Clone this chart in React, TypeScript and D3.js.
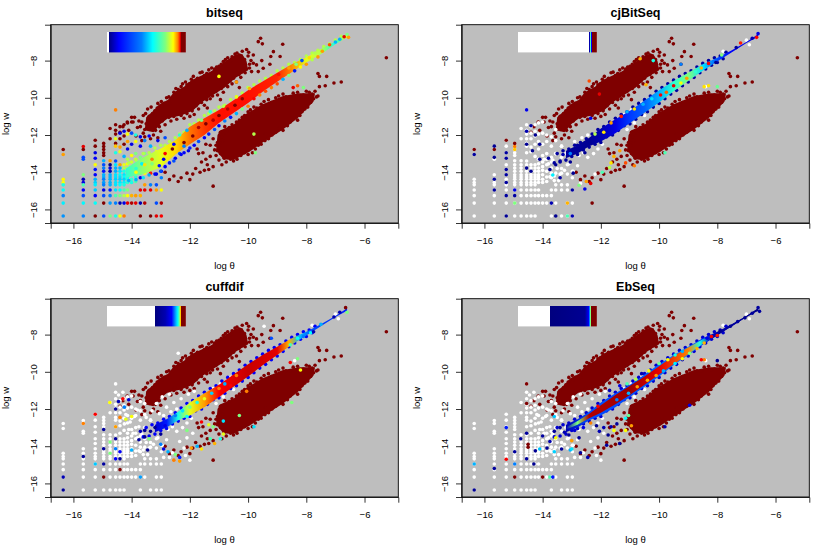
import { useEffect, useRef } from "react";
import * as d3 from "d3";

// the two dense clouds and the centre band hold thousands
// of dots in the original, here they are outlines with the visible dots typed on top
const thetaTicks = [-16, -14, -12, -10, -8, -6];
const wTicks = [-16, -14, -12, -10, -8];

const jetColors = ["#00007F", "#0000FF", "#007FFF", "#00FFFF", "#7FFF7F", "#FFFF00", "#FF7F00", "#FF0000", "#7F0000"];

const upperOutline = [
  [-13.55, -11.75], [-13.5, -11.05], [-13.25, -10.7], [-13.05, -10.35], [-12.75, -10.1], [-12.55, -9.7], [-12.2, -9.4], [-11.95, -9.05],
  [-11.6, -8.8], [-11.3, -8.6], [-11.0, -8.3], [-10.75, -8.0], [-10.45, -7.7], [-10.2, -7.65], [-10.05, -8.05], [-10.0, -8.5],
  [-10.45, -8.95], [-10.8, -9.45], [-11.2, -9.85], [-11.6, -10.25], [-11.9, -10.7], [-12.3, -10.95], [-12.75, -11.1], [-13.0, -11.4], [-13.25, -11.85],
];
const lowerOutline = [
  [-11.05, -12.0], [-10.95, -11.75], [-10.5, -11.45], [-10.05, -10.85], [-9.5, -10.35], [-8.8, -9.9], [-8.25, -9.75], [-7.7, -9.75],
  [-7.75, -10.2], [-8.3, -11.1], [-8.8, -11.7], [-9.5, -12.4], [-9.95, -12.9], [-10.5, -13.35], [-10.85, -13.3], [-11.1, -12.8],
];

const upperDots = [
  [-13.9, -11.05], [-13.75, -11.25], [-13.6, -10.95], [-13.45, -10.6], [-13.4, -11.0], [-13.2, -10.7], [-13.1, -10.3], [-12.95, -10.45], [-12.8, -10.0], [-12.7, -10.3],
  [-12.55, -9.7], [-12.4, -9.55], [-12.25, -9.25], [-12.1, -9.3], [-11.95, -9.0], [-11.8, -9.1], [-11.65, -8.65], [-11.5, -8.8], [-11.35, -8.5], [-11.15, -8.45],
  [-11.0, -8.3], [-10.85, -8.05], [-10.7, -7.85], [-10.6, -8.0], [-10.45, -7.65], [-10.3, -7.7], [-10.2, -7.5], [-10.05, -7.4], [-10.0, -7.75], [-9.9, -8.0],
  [-9.57, -6.8], [-9.65, -6.98], [-9.51, -7.1], [-8.81, -7.12], [-9.13, -7.52], [-9.22, -7.78], [-8.9, -7.78], [-9.25, -8.2], [-9.53, -8.0], [-9.48, -8.41],
  [-9.71, -8.23], [-9.65, -8.59], [-9.82, -8.14], [-9.82, -7.7], [-9.88, -8.59], [-9.95, -8.4], [-10.1, -8.65], [-10.25, -8.9], [-10.4, -9.15], [-10.55, -9.25],
  [-10.7, -9.4], [-10.85, -9.7], [-11.05, -9.85], [-11.3, -10.05], [-11.5, -10.4], [-11.7, -10.6], [-11.85, -10.9], [-12.0, -11.0], [-12.2, -11.1], [-12.45, -11.15],
  [-12.65, -11.25], [-12.85, -11.45], [-13.0, -11.8], [-13.1, -12.15], [-13.25, -12.0], [-13.4, -11.7], [-13.6, -11.9], [-13.8, -11.6], [-13.95, -11.3], [-14.15, -11.3],
  [-14.3, -11.55], [-14.4, -11.85], [-14.1, -11.75], [-13.85, -12.05], [-13.65, -12.3], [-12.9, -11.05], [-12.55, -11.0], [-11.4, -10.55], [-10.95, -10.1], [-10.3, -9.45],
  [-13.65, -11.3], [-13.52, -10.85], [-13.33, -10.5], [-13.28, -10.85], [-13.12, -10.55], [-12.98, -10.2], [-12.88, -10.3], [-12.72, -9.95], [-12.62, -10.05], [-12.48, -9.5],
  [-12.38, -9.8], [-12.3, -9.4], [-12.15, -9.15], [-12.02, -9.25], [-11.88, -8.85], [-11.74, -8.95], [-11.58, -8.62], [-11.42, -8.7], [-11.25, -8.4], [-11.08, -8.35],
  [-10.92, -8.2], [-10.78, -7.95], [-10.55, -7.8], [-10.38, -7.6], [-10.22, -7.85], [-10.12, -7.95], [-9.95, -8.2], [-9.98, -7.55], [-10.15, -8.3], [-10.05, -8.45],
  [-10.2, -8.6], [-10.32, -8.75], [-10.5, -8.95], [-10.62, -9.1], [-10.78, -9.3], [-10.92, -9.5], [-11.1, -9.65], [-11.22, -9.9], [-11.42, -10.1], [-11.6, -10.25],
  [-11.78, -10.42], [-11.92, -10.7], [-12.1, -10.85], [-12.3, -10.95], [-12.52, -10.85], [-12.72, -11.05], [-12.95, -11.25], [-13.05, -11.55], [-13.18, -11.75], [-13.3, -11.55],
  [-13.5, -11.4], [-13.7, -11.55], [-14.0, -11.05], [-13.35, -12.2], [-13.55, -12.1],
];
const lowerDots = [
  [-11.75, -12.75], [-11.7, -13.0], [-11.55, -12.95], [-11.45, -13.3], [-11.6, -13.45], [-11.4, -13.6], [-11.3, -13.15], [-11.15, -12.8], [-11.1, -13.1], [-11.0, -13.35],
  [-11.2, -13.7], [-11.35, -13.85], [-11.5, -13.9], [-11.65, -14.0], [-11.8, -13.8], [-11.9, -14.1], [-12.1, -14.05], [-12.3, -14.3], [-12.4, -14.5], [-12.55, -14.2],
  [-12.7, -14.4], [-12.85, -14.0], [-12.0, -14.4], [-11.2, -14.75], [-10.9, -13.6], [-10.75, -13.45], [-11.05, -12.4], [-10.9, -12.1], [-11.2, -12.2], [-11.45, -12.5],
  [-10.95, -11.85], [-10.8, -11.55], [-10.65, -11.6], [-10.4, -11.3], [-10.2, -11.05], [-10.0, -10.75], [-9.8, -10.5], [-9.55, -10.35], [-9.3, -10.1], [-9.05, -10.0],
  [-8.8, -9.8], [-8.55, -9.95], [-8.3, -9.7], [-8.1, -9.85], [-7.9, -9.7], [-7.7, -9.65], [-7.55, -9.4], [-7.35, -9.35], [-7.05, -9.2], [-6.8, -9.15],
  [-7.6, -8.7], [-7.55, -8.85], [-7.3, -8.85], [-7.6, -9.9], [-7.75, -10.05], [-7.95, -10.5], [-8.15, -10.75], [-8.3, -11.2], [-8.55, -11.3], [-8.8, -11.75],
  [-9.05, -11.85], [-9.3, -12.2], [-9.55, -12.5], [-9.75, -12.75], [-10.0, -13.05], [-10.25, -13.1], [-10.5, -13.4], [-10.7, -13.2], [-9.9, -12.5], [-9.4, -11.95],
  [-10.85, -11.95], [-10.72, -11.75], [-10.55, -11.45], [-10.3, -11.2], [-10.12, -10.95], [-9.92, -10.65], [-9.7, -10.55], [-9.45, -10.2], [-9.2, -10.25], [-8.95, -9.9],
  [-8.7, -9.95], [-8.45, -9.75], [-8.2, -9.9], [-8.0, -9.65], [-7.8, -9.8], [-7.65, -9.95], [-7.85, -10.25], [-8.05, -10.6], [-8.22, -10.95], [-8.42, -11.05],
  [-8.65, -11.5], [-8.92, -11.65], [-9.18, -12.0], [-9.42, -12.3], [-9.65, -12.55], [-9.85, -12.95], [-10.12, -12.95], [-10.38, -13.3], [-10.6, -13.3], [-10.82, -13.25],
  [-10.95, -13.0], [-11.05, -12.85], [-10.98, -12.55], [-11.1, -12.55], [-11.3, -12.55], [-10.88, -12.3],
];
const outliers = [[-5.25, -7.85]];

// [theta, [w, bitseq value]] for the low count lattice, white in the other three panels
const lowColumns: [number, [number, number][]][] = [
  [-16.35, [[-12.78, 1], [-13.05, 0.72], [-14.38, 0.63], [-14.55, 0.62], [-14.68, 0.4], [-14.96, 0.38], [-15.26, 0.25], [-15.66, 0.36], [-16.35, 0.27]]],
  [-15.66, [[-12.62, 0.9], [-12.78, 1], [-13.2, 0.2], [-13.3, 0.2], [-14.14, 0.5], [-14.38, 0.05], [-14.55, 0.1], [-14.68, 0.45], [-14.96, 0.12], [-15.26, 0.2], [-15.66, 0.37], [-16.35, 0.25]]],
  [-15.25, [[-12.28, 1], [-12.6, 1], [-12.95, 0.1], [-13.25, 0.12], [-13.6, 0.62], [-13.85, 0.14], [-14.14, 0.12], [-14.38, 0.3], [-14.55, 0.33], [-14.68, 0.36], [-14.96, 0.32], [-15.26, 0.12], [-15.66, 0.38], [-16.35, 1]]],
  [-14.96, [[-12.45, 1], [-12.62, 1], [-12.78, 1], [-12.95, 1], [-13.1, 1], [-13.38, 0.3], [-13.6, 0.2], [-13.78, 0.25], [-13.95, 0.15], [-14.14, 0.3], [-14.26, 0.3], [-14.38, 0.25], [-14.55, 0.28], [-14.68, 0.25], [-14.96, 0.1], [-15.26, 0.2], [-15.66, 1], [-16.35, 0.2]]],
  [-14.74, [[-11.65, 1], [-12.2, 1], [-13.38, 0.72], [-13.6, 0], [-13.78, 0.1], [-13.95, 0.05], [-14.14, 0.3], [-14.26, 0.3], [-14.38, 0.3], [-14.55, 0.3], [-14.68, 0.3], [-14.96, 0.15], [-15.26, 0.25], [-15.66, 0.28], [-16.35, 0.5]]],
  [-14.55, [[-10.65, 0.75], [-11.45, 1], [-11.75, 1], [-11.95, 1], [-12.2, 0.6], [-12.45, 1], [-12.6, 0.68], [-12.95, 0.4], [-13.4, 0.2], [-13.6, 0.35], [-13.78, 0.3], [-13.95, 0.3], [-14.14, 0.35], [-14.26, 0.35], [-14.38, 0.33], [-14.55, 0.35], [-14.68, 0.35], [-14.96, 0.35], [-15.26, 0.45], [-15.66, 0.25], [-16.35, 0.4]]],
  [-14.4, [[-11.55, 1], [-11.9, 0.1], [-12.2, 1], [-12.65, 0.72], [-12.9, 0.6], [-13.6, 0.72], [-13.78, 0.3], [-13.95, 0.35], [-14.14, 0.38], [-14.26, 0.35], [-14.38, 0.33], [-14.55, 0.35], [-14.68, 0.38], [-14.96, 0.38], [-15.26, 0.5], [-15.66, 0.05], [-16.35, 0.62]]],
  [-14.26, [[-11.45, 1], [-11.8, 0.1], [-12.05, 1], [-12.5, 1], [-13.15, 0.3], [-13.6, 0.6], [-13.78, 0.55], [-13.95, 0.4], [-14.14, 0.35], [-14.26, 0.38], [-14.38, 0.33], [-14.55, 0.36], [-14.68, 0.4], [-14.96, 0.45], [-15.26, 0.55], [-15.66, 0.1], [-16.35, 0.75]]],
  [-14.14, [[-11.35, 1], [-11.95, 0.62], [-12.35, 0.72], [-12.75, 0.1], [-13.3, 0.55], [-13.55, 0.62], [-13.78, 0.55], [-13.95, 0.5], [-14.14, 0.42], [-14.26, 0.38], [-14.38, 0.4], [-14.55, 0.42], [-14.96, 0.5], [-15.26, 0.62], [-15.66, 0.9]]],
  [-14.0, [[-11.3, 1], [-11.9, 0.2], [-12.5, 0.1], [-13.1, 0.62], [-13.45, 0.58], [-13.7, 0.62], [-13.9, 0.5], [-14.14, 0.45], [-14.38, 0.42], [-14.55, 0.4], [-15.26, 0.7], [-15.66, 0.95]]],
  [-13.86, [[-12.0, 0.4], [-12.35, 0.62], [-13.0, 0.5], [-13.3, 0.6], [-13.6, 0.7], [-13.95, 0.55], [-14.26, 0.42], [-14.5, 0.45], [-15.26, 0.72], [-15.66, 0.9]]],
  [-13.7, [[-12.1, 0.1], [-12.6, 0.12], [-13.2, 0.5], [-13.45, 0.62], [-13.78, 0.6], [-14.05, 0.45], [-14.3, 0.1], [-14.96, 0.9], [-15.26, 0.7], [-15.66, 0.05], [-16.35, 1]]],
  [-13.55, [[-11.7, 1], [-12.3, 0.25], [-13.0, 0.5], [-13.6, 0.6], [-14.05, 0.62], [-14.68, 0.72], [-14.96, 0.9], [-15.66, 0.95]]],
  [-13.35, [[-12.6, 0.3], [-13.2, 0.55], [-13.8, 0.6], [-14.05, 0.85], [-14.68, 0.25], [-14.96, 0.9], [-16.35, 1]]],
  [-13.15, [[-12.9, 0.62], [-13.6, 0.55], [-14.1, 0.1], [-14.68, 0.2], [-14.96, 0.72], [-15.66, 0.2], [-16.35, 0.9]]],
  [-12.98, [[-13.95, 0.12], [-14.3, 0.25], [-14.96, 0.62], [-15.66, 0.95], [-16.35, 0.88]]],
];

// parts of the cloud around the band that go white in the last three panels
const sharedWhite = [
  [-13.95, -13.3], [-13.8, -13.55], [-13.65, -13.35], [-13.5, -13.8], [-13.4, -14.1], [-13.25, -13.9], [-13.1, -13.55], [-12.95, -13.95], [-12.8, -13.65], [-13.2, -13.0],
  [-13.0, -12.85], [-12.75, -13.1], [-12.6, -12.95], [-12.45, -13.2], [-12.25, -13.0], [-12.1, -12.75], [-11.95, -12.5], [-12.9, -12.35], [-12.65, -12.15], [-12.45, -12.0],
  [-13.35, -12.6], [-13.55, -13.0], [-13.75, -14.25], [-13.6, -14.2], [-13.45, -14.45], [-13.6, -14.45], [-12.7, -14.6], [-12.2, -14.1], [-11.75, -11.65], [-11.5, -11.35],
  [-11.2, -10.9], [-10.95, -10.65], [-10.6, -10.3], [-10.3, -10.0], [-11.1, -11.7], [-10.85, -11.35], [-10.5, -10.95], [-8.4, -9.4], [-7.8, -7.5], [-7.0, -6.9], [-6.9, -7.15],
];
const wideWhite = [
  [-14.45, -11.25], [-14.3, -11.1], [-14.55, -11.1], [-14.2, -12.3], [-14.05, -12.7], [-13.9, -12.4], [-13.8, -12.05], [-13.7, -11.6], [-13.5, -12.45], [-13.3, -12.1],
  [-13.15, -11.7], [-12.95, -11.35], [-12.7, -11.2], [-13.75, -12.95], [-14.1, -13.1], [-14.25, -12.8], [-14.4, -13.3], [-13.05, -12.25], [-12.8, -11.9], [-12.55, -11.65],
  [-12.3, -11.45], [-12.05, -11.2], [-11.85, -11.05], [-12.35, -13.75], [-12.1, -13.55], [-11.9, -13.3], [-12.15, -14.5], [-12.0, -14.75], [-12.6, -14.35], [-12.9, -14.6],
];

const bandTheta = [-14.2, -13.6, -13, -12.5, -12, -11.5, -11, -10.5, -10, -9.5, -9, -8.5, -8, -7.5, -7, -6.6];
const bandLow = [-14.3, -14.1, -13.75, -13.05, -12.5, -12.0, -11.35, -10.82, -10.28, -9.68, -9.14, -8.62, -8.1, -7.66, -7.12, -6.76];
const bandHigh = [-13.8, -13.2, -12.72, -12.28, -11.56, -11.1, -10.66, -10.13, -9.59, -9.12, -8.65, -8.2, -7.82, -7.38, -6.97, -6.57];

const coreTheta = [-13.2, -12.8, -12.4, -12, -11.5, -11, -10.5, -10, -9.5, -9, -8.5, -8, -7.5, -7, -6.6];
const coreLow = [-13.25, -13.0, -12.6, -12.35, -11.9, -11.35, -10.8, -10.25, -9.65, -9.1, -8.55, -8.05, -7.55, -7.05, -6.72];
const coreHigh = [-12.85, -12.55, -12.15, -11.65, -11.15, -10.7, -10.15, -9.6, -9.1, -8.65, -8.2, -7.85, -7.45, -7.0, -6.58];
const innerLow = [-13.1, -12.85, -12.5, -12.2, -11.75, -11.25, -10.7, -10.15, -9.6, -9.05, -8.5, -8.0, -7.55, -7.05, -6.7];
const innerHigh = [-13.0, -12.65, -12.25, -11.8, -11.25, -10.75, -10.25, -9.7, -9.15, -8.7, -8.25, -7.9, -7.45, -7.0, -6.6];

// dots on the band edges so they do not end in a clean line
const bandUpperDots = [
  [-14.1, -13.5], [-13.85, -13.35], [-13.6, -13.0], [-13.4, -12.95], [-13.2, -12.7], [-13, -12.55], [-12.85, -12.55], [-12.7, -12.35], [-12.5, -12.15], [-12.35, -11.95],
  [-12.2, -11.85], [-12, -11.45], [-11.85, -11.4], [-11.7, -11.2], [-11.5, -10.95], [-11.35, -10.85], [-11.15, -10.7], [-11, -10.5], [-10.8, -10.4], [-10.6, -10.1],
  [-10.4, -9.95], [-10.2, -9.75], [-10, -9.45], [-9.8, -9.3], [-9.6, -9.1], [-9.4, -8.95], [-9.2, -8.8], [-9, -8.55], [-8.8, -8.4], [-8.6, -8.2],
  [-8.4, -8.1], [-8.2, -7.95], [-8, -7.75], [-7.8, -7.6], [-7.6, -7.45], [-7.4, -7.25], [-7.2, -7.1], [-7, -6.9], [-6.8, -6.7],
];
const bandLowerDots = [
  [-14.1, -14.45, 0.3], [-13.85, -14.4, 0.3], [-13.6, -14.3, 0.35], [-13.4, -14.15, 0.3], [-13.2, -14.1, 0.12], [-13, -13.95, 0.2], [-12.85, -13.7, 0.12], [-12.7, -13.5, 0.15], [-12.5, -13.25, 0.12], [-12.35, -13.0, 0.2],
  [-12.2, -12.95, 0.12], [-12, -12.7, 0.15], [-11.85, -12.55, 0.12], [-11.7, -12.35, 0.2], [-11.5, -12.15, 0.12], [-11.35, -11.95, 0.15], [-11.15, -11.7, 0.2], [-11, -11.5, 0.12], [-10.8, -11.25, 0.25], [-10.6, -11.05, 0.15],
  [-10.4, -10.85, 0.3], [-10.2, -10.6, 0.5], [-10, -10.45, 0.75], [-9.8, -10.05, 0.88], [-9.6, -9.85, 0.75], [-9.4, -9.65, 0.8], [-9.2, -9.45, 0.75], [-9, -9.25, 0.8], [-8.8, -9.0, 0.3], [-8.6, -8.8, 0.5],
  [-8.4, -8.55, 0.15], [-8.2, -8.35, 0.62], [-8, -8.2, 0.72], [-7.8, -7.95, 0.55], [-7.6, -7.8, 0.72],
];
const coreDots = [
  [-13.5, -13.0], [-13.3, -12.85], [-13.1, -12.75], [-12.9, -12.55], [-12.7, -12.4], [-12.5, -12.2], [-12.3, -11.95], [-12.1, -11.7], [-11.9, -11.55], [-11.7, -11.3],
  [-11.5, -11.1], [-11.3, -10.9], [-11.1, -10.75], [-10.9, -10.5], [-10.7, -10.3], [-10.5, -10.1], [-10.3, -9.9], [-10.1, -9.65], [-9.9, -9.45], [-9.7, -9.25],
  [-9.5, -9.05], [-9.3, -8.85], [-9.1, -8.7], [-8.9, -8.55], [-8.7, -8.35], [-8.5, -8.15], [-8.3, -8.0], [-8.1, -7.85], [-7.9, -7.75], [-7.7, -7.55],
  [-13.6, -13.5], [-13.4, -13.45], [-13.2, -13.35], [-13, -13.15], [-12.8, -13.05], [-12.6, -12.8], [-12.4, -12.65], [-12.2, -12.5], [-12, -12.4], [-11.8, -12.1],
  [-11.6, -12.0], [-11.4, -11.75], [-11.2, -11.5], [-11, -11.4], [-10.8, -11.15], [-10.6, -10.9], [-10.4, -10.75], [-10.2, -10.5], [-10, -10.3], [-9.8, -10.05],
  [-9.6, -9.8], [-9.4, -9.6], [-9.2, -9.35], [-9, -9.15], [-8.8, -8.9], [-8.6, -8.65], [-8.4, -8.45], [-8.2, -8.25], [-8, -8.1], [-7.8, -7.9],
];

const bitseqStops = [[-14.2, 0.42], [-13.6, 0.52], [-13, 0.6], [-12.5, 0.66], [-12, 0.76], [-11.5, 0.82], [-11, 0.86], [-10, 0.86], [-9, 0.84], [-8.5, 0.74], [-8, 0.6], [-7.5, 0.55], [-7, 0.4], [-6.6, 0.62]];
const cjStops = [[-13.2, 0.03], [-12.4, 0.02], [-12, 0.05], [-11.5, 0.1], [-11, 0.18], [-10.5, 0.22], [-10, 0.3], [-9.5, 0.42], [-9, 0.5], [-8.5, 0.35], [-8, 0.2], [-7.5, 0.12], [-6.6, 0.1]];
const cuffStops = [[-13.2, 0.08], [-12.8, 0.15], [-12.4, 0.4], [-12, 0.6], [-11.5, 0.72], [-11, 0.88], [-10, 0.93], [-9, 0.9], [-8.6, 0.7], [-8.2, 0.3], [-7.8, 0.2], [-6.6, 0.15]];
const ebEdgeStops = [[-13.2, 0.05], [-12.4, 0.2], [-11, 0.2], [-9, 0.25], [-8.4, 0.15], [-8, 0.02], [-6.6, 0.01]];
const ebInnerStops = [[-13.2, 0.05], [-12.8, 0.5], [-12.4, 0.95], [-11, 0.97], [-10, 0.9], [-9, 0.75], [-8.6, 0.4], [-8.2, 0.05], [-6.6, 0.01]];

// colour bars: [position along the bar, jet value], null is white
const bitseqBar: [number, number | null][] = [[0, null], [0.02, null], [0.02, 0], [0.15, 0.125], [0.44, 0.25], [0.58, 0.375], [0.74, 0.5], [0.84, 0.625], [0.9, 0.75], [0.93, 0.875], [0.94, 1], [1, 1]];
const cjBar: [number, number | null][] = [[0, null], [0.903, null], [0.903, 0], [0.915, 0.125], [0.92, 0.45], [0.93, 0.5], [0.932, 0.125], [0.94, 0.125], [0.94, 1], [1, 1]];
const cuffBar: [number, number | null][] = [[0, null], [0.615, null], [0.615, 0], [0.74, 0.05], [0.82, 0.125], [0.88, 0.32], [0.9, 0.375], [0.92, 0.5], [0.93, 0.625], [0.94, 0.8], [0.94, 1], [1, 1]];
const ebBar: [number, number | null][] = [[0, null], [0.4, null], [0.4, 0], [0.85, 0.02], [0.9, 0.125], [0.915, 0.375], [0.925, 0.625], [0.93, 0.875], [0.93, 1], [1, 1]];

const bitseqSpots = [
  [-13.4, -12.05, 0.12], [-13.1, -12.3, 0.1], [-12.85, -12.15, 0.2], [-12.55, -12.5, 0.12], [-12.2, -12.6, 0.25], [-12.9, -13.3, 0.1], [-13.05, -13.65, 0.14], [-12.55, -13.4, 0.2], [-12.3, -13.05, 0.12], [-12.05, -12.85, 0.1],
  [-12.35, -12.0, 0.42], [-12.1, -11.75, 0.3], [-11.6, -11.2, 0.5], [-11.3, -10.75, 0.42], [-10.85, -10.45, 0.55], [-10.4, -9.95, 0.6], [-9.95, -9.5, 0.7], [-13.65, -13.55, 0.36], [-13.85, -13.8, 0.42], [-13.3, -13.55, 0.5],
  [-12.6, -12.75, 1], [-12.2, -12.4, 1], [-11.9, -12.05, 1], [-11.7, -11.6, 0.95], [-11.45, -11.4, 1], [-11.2, -11.2, 0.95], [-11.0, -10.95, 1], [-10.7, -10.6, 0.95], [-10.45, -10.4, 1], [-10.2, -10.05, 0.98],
  [-12.85, -13.0, 0.88], [-13.3, -13.3, 0.75], [-13.55, -13.6, 0.65], [-13.85, -14.0, 0.62], [-8.95, -8.75, 0.86], [-8.6, -8.4, 0.72], [-8.35, -8.2, 0.5], [-8.15, -8.0, 0.2], [-7.9, -7.85, 0.66], [-7.7, -7.6, 0.55],
  [-7.45, -7.5, 0.72], [-7.2, -7.15, 0.8], [-7.0, -7.0, 0.3], [-6.85, -6.85, 0.3], [-6.6, -6.6, 0.5], [-6.55, -6.75, 0.72], [-6.7, -6.72, 0.9], [-8.45, -9.45, 0.9], [-8.3, -9.35, 0.78], [-8.1, -9.45, 0.5],
  [-9.8, -11.95, 0.55], [-9.75, -12.95, 0.5], [-10.4, -9.15, 0.72], [-11.0, -8.85, 0.62],
];
const cjSpots = [
  [-14.35, -12.85, 0.02], [-14.1, -13.3, 0.02], [-13.8, -13.25, 0.03], [-13.55, -13.6, 0.02], [-13.75, -13.85, 0.02], [-13.3, -13.05, 0.05], [-13.05, -13.45, 0.02], [-12.8, -12.55, 0.03], [-12.55, -12.95, 0.02], [-12.95, -14.05, 0.02],
  [-13.4, -13.4, 0.03], [-13.65, -14.15, 0.36], [-13.4, -14.3, 0.03], [-14.1, -12.5, 0.02], [-14.55, -12.5, 0.02], [-14.55, -11.8, 0.05], [-14.25, -12.0, 0.02], [-14.4, -11.5, 0.03], [-14.55, -10.65, 0.1], [-15.66, -12.6, 0.02],
  [-15.66, -13.2, 0.02], [-15.25, -12.95, 0.03], [-15.25, -13.25, 0.03], [-15.25, -13.85, 0.03], [-15.25, -14.14, 0.03], [-15.66, -14.38, 0.03], [-15.66, -14.96, 0.03], [-15.25, -14.55, 0.03], [-15.25, -15.26, 0.03], [-14.96, -14.96, 0.1],
  [-14.96, -15.26, 0.03], [-14.55, -13.78, 0.02], [-14.4, -13.95, 0.02], [-14.96, -12.62, 0.75], [-14.96, -12.78, 0.68], [-14.96, -12.45, 1], [-16.35, -12.78, 1], [-16.35, -13.05, 0.03], [-15.66, -12.78, 1], [-15.25, -12.28, 1],
  [-14.96, -15.66, 0.5], [-13.7, -15.66, 0.05], [-13.15, -15.66, 0.7], [-12.98, -16.35, 0.05], [-13.15, -16.35, 0.45], [-15.25, -16.35, 0.02], [-13.55, -16.35, 0.02], [-12.3, -15.66, 1], [-12.98, -14.96, 0.03], [-12.75, -14.7, 0.5],
  [-12.5, -14.5, 0.72], [-12.35, -14.6, 0.9], [-12.55, -14.9, 0.1], [-11.55, -13.15, 0.7], [-11.65, -13.5, 0.65], [-11.7, -13.75, 0.55], [-11.95, -14.0, 0.45], [-11.35, -12.85, 0.72], [-10.85, -13.65, 0.75], [-11.15, -13.5, 0.8],
  [-12.35, -11.1, 0.1], [-12.05, -9.8, 0.9], [-12.4, -9.1, 0.8], [-10.45, -9.3, 0.7], [-10.2, -8.0, 0.4], [-10.65, -7.9, 0.7], [-9.25, -8.2, 0.25], [-8.45, -9.4, 0.65], [-8.3, -9.35, 0.65], [-8.0, -9.4, 0.48],
  [-9.8, -12.95, 0.45], [-13.05, -13.0, 0.25], [-12.2, -11.95, 0.55], [-11.9, -11.85, 0.65], [-11.65, -11.35, 0.72], [-11.3, -11.0, 0.85], [-11.1, -10.75, 0.3], [-10.85, -10.6, 0.65], [-10.55, -10.35, 0.3], [-10.25, -10.05, 0.35],
  [-9.95, -9.85, 0.88], [-9.75, -9.7, 0.78], [-9.5, -9.35, 0.9], [-9.25, -9.2, 0.62], [-9.05, -8.95, 0.72], [-8.75, -8.6, 0.42], [-8.55, -8.4, 0.7], [-8.3, -8.15, 0.88], [-8.05, -8.1, 0.02], [-7.85, -7.7, 0.5],
  [-7.2, -7.05, 0.85], [-6.65, -6.75, 0.88], [-6.6, -6.55, 0.1], [-6.8, -6.8, 0.05], [-7.35, -7.3, 0.03],
];
const cuffSpots = [
  [-14.25, -11.9, 0.25], [-14.45, -11.6, 0.05], [-14.1, -11.5, 0.08], [-14.3, -11.45, 0.88], [-14.55, -12.0, 0.03], [-14.75, -11.65, 0.62], [-14.55, -12.95, 0.72], [-14.4, -12.45, 0.75], [-14.2, -12.55, 0.6], [-14.0, -12.4, 0.62],
  [-15.25, -12.28, 0.88], [-15.66, -12.78, 0.75], [-14.96, -13.1, 0.03], [-14.55, -13.6, 0.03], [-14.74, -13.78, 0.5], [-14.55, -14.14, 0.25], [-14.4, -14.3, 0.12], [-14.55, -14.68, 0.12], [-14.74, -14.38, 0.5], [-14.96, -14.96, 0.03],
  [-15.66, -14.55, 0.03], [-15.25, -14.96, 0.32], [-14.96, -14.14, 0.03], [-16.35, -15.66, 0.05], [-16.35, -16.35, 0.02], [-14.96, -15.66, 1], [-14.4, -15.26, 1], [-13.7, -15.66, 0.28], [-14.4, -14.68, 0.02], [-14.0, -14.2, 0.3],
  [-13.7, -13.2, 0.05], [-13.55, -13.5, 0.02], [-13.4, -13.6, 0.5], [-13.2, -13.0, 0.02], [-13.0, -13.35, 0.02], [-12.85, -12.9, 0.1], [-13.55, -13.15, 0.02], [-13.35, -13.2, 0.02], [-13.75, -13.65, 0.03], [-13.45, -14.2, 0.02],
  [-13.0, -13.9, 0.25], [-12.9, -14.15, 0.1], [-12.75, -14.3, 0.3], [-12.5, -14.45, 0.5], [-12.35, -14.6, 0.15], [-12.55, -14.75, 0.75], [-12.35, -14.8, 0.72], [-11.95, -14.1, 0.72], [-11.75, -14.0, 0.3], [-11.6, -14.15, 0.65],
  [-11.3, -13.6, 0.45], [-11.15, -13.85, 0.7], [-10.95, -13.6, 0.4], [-10.85, -13.35, 0.6], [-12.1, -13.15, 0.5], [-11.6, -12.7, 0.88], [-11.35, -12.85, 0.6], [-11.2, -12.95, 0.5], [-10.85, -12.65, 0.35], [-10.3, -12.35, 0.5],
  [-9.8, -12.95, 0.35], [-8.5, -11.65, 0.5], [-10.05, -11.05, 0.75], [-10.4, -10.2, 0.75], [-8.55, -9.5, 0.88], [-8.3, -9.3, 0.5], [-8.2, -9.9, 0.62], [-9.2, -8.2, 0.2], [-9.45, -7.55, null], [-12.4, -9.0, null],
  [-12.5, -12.35, 0.25], [-12.25, -12.1, 0.35], [-12.0, -11.9, 0.5], [-11.75, -11.65, 0.4], [-11.5, -11.45, 0.6], [-11.25, -11.15, 0.33], [-11.0, -10.9, 0.75], [-10.8, -10.65, 0.3], [-10.6, -10.75, 0.88], [-12.1, -12.4, 0.38],
  [-8.55, -8.55, 0.45], [-8.3, -8.2, 0.38], [-8.1, -8.1, 0.25], [-7.85, -7.9, 0.38], [-7.75, -7.85, 0.05], [-7.5, -7.45, 0.3], [-7.05, -7.05, 0.05], [-6.85, -6.8, 0.05], [-6.6, -6.8, 0.5], [-6.65, -6.55, 1],
];
const ebSpots = [
  [-13.4, -13.0, 0.03], [-13.25, -13.25, 0.05], [-13.1, -13.4, 0.03], [-12.9, -13.15, 0.08], [-12.75, -13.55, 0.02], [-12.6, -13.0, 0.1], [-13.55, -13.55, 0.62], [-13.35, -14.15, 0.03], [-13.05, -14.2, 0.3], [-13.0, -13.7, 0.72],
  [-13.75, -13.75, 0.05], [-13.85, -14.1, 0.02], [-14.0, -13.45, 0.03], [-14.1, -14.15, 0.32], [-14.25, -14.25, 0.02], [-14.55, -13.3, 0.03], [-14.75, -13.6, 0.03], [-14.96, -14.3, 0.03], [-14.55, -14.68, 0.03], [-14.3, -14.96, 0.02],
  [-15.25, -13.0, 0.15], [-15.25, -14.7, 0.88], [-15.66, -15.2, 0.03], [-16.35, -14.96, 0.3], [-16.35, -16.35, 0.02], [-14.96, -14.96, 0.25], [-14.96, -15.66, 1], [-14.0, -15.66, 1], [-13.75, -15.66, 0.45], [-13.65, -15.66, 0.15],
  [-14.5, -13.9, 1], [-14.5, -14.05, 1], [-14.55, -11.7, 1], [-14.55, -10.65, 1], [-13.6, -14.3, 0.33], [-13.6, -12.4, 0.32], [-13.0, -14.15, 0.35], [-13.6, -13.2, 0.03], [-12.7, -14.35, 0.03], [-12.45, -14.6, 0.05],
  [-12.15, -12.9, 0.02], [-12.05, -13.2, 0.05], [-11.9, -13.0, 0.05], [-11.75, -13.4, 0.02], [-11.65, -12.95, 0.05], [-11.55, -13.15, 0.62], [-11.8, -13.95, 0.03], [-11.45, -12.8, 0.03], [-11.15, -13.15, 0.62], [-11.35, -13.85, 0.03],
  [-10.95, -12.9, 0.72], [-11.15, -12.5, 0.38], [-11.05, -12.35, 0.48], [-9.8, -12.95, 0.05], [-8.95, -11.8, 0.1], [-8.45, -9.35, 0.75], [-8.55, -9.35, 0.88], [-8.0, -9.4, 0.02], [-12.1, -11.85, 0.88], [-12.35, -12.75, 0.75],
  [-11.7, -11.0, 0.05], [-11.35, -10.75, 0.1], [-11.1, -10.65, 0.45], [-10.8, -10.4, 0.55], [-10.6, -10.1, 0.05], [-10.35, -9.95, 0.62], [-10.0, -9.55, 0.48], [-9.7, -9.35, 0.62], [-9.45, -9.1, 0.4], [-9.2, -8.9, 0.3],
  [-11.45, -11.5, 0.25], [-11.05, -11.15, 0.3], [-10.75, -10.8, 0.72], [-10.4, -10.45, 0.7], [-10.1, -10.2, 0.72], [-9.85, -9.95, 0.3], [-9.45, -9.55, 0.36], [-9.2, -9.3, 0.62], [-8.95, -9.0, 0.5], [-8.7, -8.75, 0.7],
  [-8.45, -8.45, 0.7], [-8.2, -8.1, 0.88], [-8.0, -8.05, 0.85], [-8.35, -8.2, 0.1], [-7.9, -7.8, 0.02], [-7.55, -7.55, 0.02], [-7.3, -7.3, 0.03], [-7.05, -7.1, 0.02], [-6.8, -6.85, 0.03], [-6.55, -6.75, 0.03], [-6.6, -6.55, 0.03],
];

type Layer = { theta: number[]; low: number[]; high: number[]; stops: number[][] };
type Panel = {
  title: string;
  bar: [number, number | null][];
  layers: Layer[];
  edgeDots: number[][];
  edgeValue: number;
  spots: (number | null)[][];
  white: number[][];
  latticeWhite: boolean;
};

const panels: Panel[] = [
  {
    title: "bitseq", bar: bitseqBar,
    layers: [{ theta: bandTheta, low: bandLow, high: bandHigh, stops: bitseqStops }],
    edgeDots: bandUpperDots, edgeValue: 0.55,
    spots: [...bandLowerDots, ...bitseqSpots], white: [], latticeWhite: false,
  },
  {
    title: "cjBitSeq", bar: cjBar,
    layers: [{ theta: coreTheta, low: coreLow, high: coreHigh, stops: cjStops }],
    edgeDots: coreDots, edgeValue: 0.03,
    spots: cjSpots, white: sharedWhite, latticeWhite: true,
  },
  {
    title: "cuffdif", bar: cuffBar,
    layers: [{ theta: coreTheta, low: coreLow, high: coreHigh, stops: cuffStops }],
    edgeDots: coreDots, edgeValue: 0.12,
    spots: cuffSpots, white: sharedWhite.concat(wideWhite), latticeWhite: true,
  },
  {
    title: "EbSeq", bar: ebBar,
    layers: [
      { theta: coreTheta, low: coreLow, high: coreHigh, stops: ebEdgeStops },
      { theta: coreTheta, low: innerLow, high: innerHigh, stops: ebInnerStops },
    ],
    edgeDots: coreDots, edgeValue: 0.08,
    spots: ebSpots, white: sharedWhite.concat(wideWhite), latticeWhite: true,
  },
];

const dims = { width: 822, height: 548, panelW: 411, panelH: 274, left: 50.7, right: 398.3, top: 24.7, bottom: 223, dot: 1.8 };
const grey = "#BEBEBE";
const maroon = "#7F0000";
const font = "'Liberation Sans', Arial, sans-serif";

const App = () => {
  const ref = useRef<SVGSVGElement>(null);

  useEffect(() => {
    const svg = d3.select(ref.current);
    svg.selectAll("*").remove();

    const jet = d3.scaleLinear<string>()
      .domain(jetColors.map((_, i) => i / (jetColors.length - 1)))
      .range(jetColors);
    const colour = (v: number | null) => (v === null ? "#FFFFFF" : jet(v));

    const x = d3.scaleLinear().domain([-16.78, -4.84]).range([dims.left, dims.right]);
    const y = d3.scaleLinear().domain([-16.73, -6.07]).range([dims.bottom, dims.top]);

    const outline = d3.line<number[]>().x(d => x(d[0])).y(d => y(d[1])).curve(d3.curveLinearClosed);
    const lattice = lowColumns.flatMap(([t, col]) => col.map(([w, v]) => [t, w, v]));
    const defs = svg.append("defs");

    panels.forEach((p, pi) => {
      const g = svg.append("g")
        .attr("transform", `translate(${(pi % 2) * dims.panelW},${Math.floor(pi / 2) * dims.panelH})`);

      g.append("rect")
        .attr("x", dims.left).attr("y", dims.top)
        .attr("width", dims.right - dims.left).attr("height", dims.bottom - dims.top)
        .attr("fill", grey);

      // clouds
      g.selectAll(".cloud").data([upperOutline, lowerOutline]).enter().append("path")
        .attr("d", d => outline(d)).attr("fill", maroon);
      g.append("g").selectAll("circle").data([...upperDots, ...lowerDots, ...outliers]).enter().append("circle")
        .attr("cx", d => x(d[0])).attr("cy", d => y(d[1])).attr("r", dims.dot).attr("fill", maroon);

      // low count lattice and white dots
      g.append("g").selectAll("circle").data(lattice).enter().append("circle")
        .attr("cx", d => x(d[0])).attr("cy", d => y(d[1])).attr("r", dims.dot)
        .attr("fill", d => (p.latticeWhite ? "#FFFFFF" : jet(d[2])));
      g.append("g").selectAll("circle").data(p.white).enter().append("circle")
        .attr("cx", d => x(d[0])).attr("cy", d => y(d[1])).attr("r", dims.dot).attr("fill", "#FFFFFF");

      // band
      g.append("g").selectAll("circle").data(p.edgeDots).enter().append("circle")
        .attr("cx", d => x(d[0])).attr("cy", d => y(d[1])).attr("r", dims.dot)
        .attr("fill", jet(p.edgeValue));
      p.layers.forEach((layer, li) => {
        const id = `band-${pi}-${li}`;
        const grad = defs.append("linearGradient").attr("id", id)
          .attr("gradientUnits", "userSpaceOnUse")
          .attr("x1", x(-16)).attr("x2", x(-6)).attr("y1", 0).attr("y2", 0);
        layer.stops.forEach(s => {
          grad.append("stop").attr("offset", (s[0] + 16) / 10).attr("stop-color", jet(s[1]));
        });
        const area = d3.area<number>()
          .x(i => x(layer.theta[i]))
          .y0(i => y(layer.low[i]))
          .y1(i => y(layer.high[i]));
        g.append("path").attr("d", area(layer.theta.map((_, i) => i))).attr("fill", `url(#${id})`);
      });

      g.append("g").selectAll("circle").data(p.spots).enter().append("circle")
        .attr("cx", d => x(d[0] as number)).attr("cy", d => y(d[1] as number)).attr("r", dims.dot)
        .attr("fill", d => colour(d[2]));

      // colour bar
      const barX = d3.scaleLinear().domain([0, 1]).range([107, 185.8]);
      const barId = `bar-${pi}`;
      const barGrad = defs.append("linearGradient").attr("id", barId);
      p.bar.forEach(([pos, v]) => {
        barGrad.append("stop").attr("offset", pos).attr("stop-color", colour(v));
      });
      g.append("rect").attr("x", barX(0)).attr("y", 32)
        .attr("width", barX(1) - barX(0)).attr("height", 20.4)
        .attr("fill", `url(#${barId})`);

      // box and axes
      g.append("rect")
        .attr("x", dims.left).attr("y", dims.top)
        .attr("width", dims.right - dims.left).attr("height", dims.bottom - dims.top)
        .attr("fill", "none").attr("stroke", "#000").attr("stroke-width", 0.9);

      const xAxis = d3.axisBottom(x).tickValues(thetaTicks).tickSize(5.7).tickPadding(8.5)
        .tickFormat(d => `\u2212${Math.abs(d as number)}`);
      const yAxis = d3.axisLeft(y).tickValues(wTicks).tickSize(5.7).tickPadding(8.5)
        .tickFormat(d => `\u2212${Math.abs(d as number)}`);

      const gx = g.append("g").attr("transform", `translate(0,${dims.bottom})`).call(xAxis);
      const gy = g.append("g").attr("transform", `translate(${dims.left},0)`).call(yAxis);
      [gx, gy].forEach(a => {
        a.attr("font-family", font).attr("font-size", 9.5);
        a.selectAll("line").attr("stroke-width", 0.8);
        a.select(".domain").attr("stroke-width", 0.8);
      });
      // R writes the left axis labels turned on their side
      gy.selectAll("text")
        .attr("x", 0).attr("dy", 0)
        .attr("text-anchor", "middle")
        .attr("transform", "translate(-14,0) rotate(-90)");

      g.append("text").text(p.title)
        .attr("x", 224.5).attr("y", 17)
        .attr("text-anchor", "middle").attr("font-family", font)
        .attr("font-size", 12.5).attr("font-weight", "bold");
      g.append("text").text("log \u03B8")
        .attr("x", 224.5).attr("y", 269)
        .attr("text-anchor", "middle").attr("font-family", font).attr("font-size", 9.5);
      g.append("text").text("log w")
        .attr("transform", "translate(9,124) rotate(-90)")
        .attr("text-anchor", "middle").attr("font-family", font).attr("font-size", 9.5);
    });
  }, []);

  return (
    <svg
      ref={ref}
      width={dims.width}
      height={dims.height}
      style={{ position: "absolute", left: 0, top: 0, background: "#fff" }}
    />
  );
};

export default App;
